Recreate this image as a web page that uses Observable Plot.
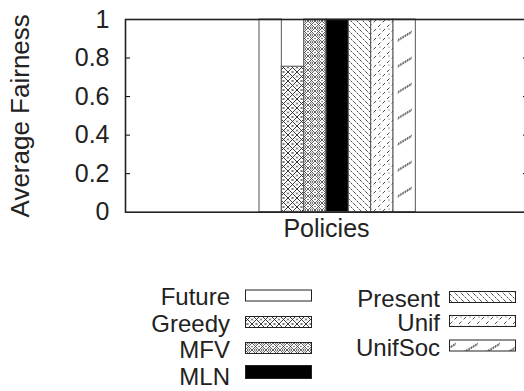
<!DOCTYPE html>
<html><head><meta charset="utf-8">
<script src="https://cdn.jsdelivr.net/npm/d3@7"></script>
<script src="https://cdn.jsdelivr.net/npm/@observablehq/plot@0.6"></script>
<style>
html,body{margin:0;padding:0;background:#fff;overflow:hidden;}
#chart{position:relative;width:524px;height:391px;overflow:hidden;}
#chart svg{max-width:none !important;width:530px;height:391px;}
svg text{font-family:"Liberation Sans",Arial,sans-serif;}
</style></head><body><div id="chart"></div>
<script>
const policies = ["Future","Greedy","MFV","MLN","Present","Unif","UnifSoc"];
const fairness = [1, 0.755, 1, 1, 1, 1, 1];
const yTicks = [0, 0.2, 0.4, 0.6, 0.8, 1];
const yTickLabels = ["0","0.2","0.4","0.6","0.8","1"];
const patternIds = ["pat-future","pat-greedy","pat-mfv","pat-mln","pat-present","pat-unif","pat-unifsoc"];
const legendLeft = ["Future","Greedy","MFV","MLN"];
const legendRight = ["Present","Unif","UnifSoc"];
const xLabel = "Policies";
const yLabel = "Average Fairness";

const bars = policies.map((p, i) => ({policy: p, index: i, value: fairness[i], fill: `url(#${patternIds[i]})`}));
const FS = 24;

const plot = Plot.plot({
  width: 530, height: 391,
  marginLeft: 125, marginRight: 3, marginTop: 19, marginBottom: 179.3,
  style: {fontFamily: "Liberation Sans, Arial, sans-serif", fontSize: FS + "px", color: "#000", background: "#fff", overflow: "visible", maxWidth: "none"},
  x: {domain: [-6, 12], axis: null},
  y: {domain: [0, 1], axis: null},
  color: {type: "identity"},
  marks: [
    Plot.rectY(bars, {x1: "index", x2: d => d.index + 1, y: "value", fill: "fill", stroke: "#555", strokeWidth: 1}),
    Plot.axisY({ticks: yTicks, tickFormat: d => yTickLabels[yTicks.indexOf(d)], tickSize: 0, tickPadding: 16, label: null, fontSize: FS + 1, fill: "#222"}),
    Plot.axisY({ticks: yTicks.slice(1, -1), anchor: "left", tickSize: -5, text: null, label: null, stroke: "#000"}),
    Plot.axisY({ticks: yTicks.slice(1, -1), anchor: "right", tickSize: -5, text: null, label: null, stroke: "#000"}),
    Plot.frame({stroke: "#222", strokeWidth: 1.6}),
    Plot.text([xLabel], {frameAnchor: "bottom", dy: 25, text: d => d, fontSize: FS + 1, fill: "#222"}),
    Plot.text([yLabel], {frameAnchor: "left", dx: -105, rotate: -90, textAnchor: "middle", text: d => d, fontSize: 26, fill: "#222"})
  ]
});
document.getElementById("chart").appendChild(plot);

const svg = d3.select(plot);
const defs = svg.insert("defs", ":first-child");
function pat(id, w, h) {
  const p = defs.append("pattern").attr("id", id).attr("patternUnits", "userSpaceOnUse").attr("width", w).attr("height", h);
  p.append("rect").attr("width", w).attr("height", h).attr("fill", "#fff");
  return p;
}
pat("pat-future", 4, 4);
{
  const p = pat("pat-greedy", 9, 9);
  p.append("path").attr("d", "M0,0L9,9M9,0L0,9").attr("stroke", "#222").attr("stroke-width", 0.9).attr("fill", "none");
  p.append("path").attr("d", "M3.5,-1L5.5,1M5.5,-1L3.5,1M3.5,8L5.5,10M5.5,8L3.5,10M-1,3.5L1,5.5M1,3.5L-1,5.5M8,3.5L10,5.5M10,3.5L8,5.5").attr("stroke", "#222").attr("stroke-width", 0.7).attr("fill", "none");
}
{
  const p = pat("pat-mfv", 7, 7);
  p.append("path").attr("d", "M0,0L7,7M7,0L0,7").attr("stroke", "#333").attr("stroke-width", 0.8).attr("fill", "none");
  p.append("circle").attr("cx", 3.5).attr("cy", 0).attr("r", 1.2).attr("fill", "none").attr("stroke", "#333").attr("stroke-width", 0.7);
  p.append("circle").attr("cx", 3.5).attr("cy", 7).attr("r", 1.2).attr("fill", "none").attr("stroke", "#333").attr("stroke-width", 0.7);
  p.append("circle").attr("cx", 0).attr("cy", 3.5).attr("r", 0.7).attr("fill", "#333");
  p.append("circle").attr("cx", 7).attr("cy", 3.5).attr("r", 0.7).attr("fill", "#333");
}
{
  const p = pat("pat-mln", 4, 4);
  p.select("rect").attr("fill", "#000");
}
{
  const p = pat("pat-present", 6, 6);
  p.append("path").attr("d", "M0,0L6,6M-3,3L3,9M3,-3L9,3").attr("stroke", "#333").attr("stroke-width", 0.9).attr("stroke-dasharray", "2.5,1.2").attr("fill", "none");
}
{
  const p = pat("pat-unif", 9, 9);
  p.append("path").attr("d", "M0,9L9,0").attr("stroke", "#333").attr("stroke-width", 0.9).attr("stroke-dasharray", "3.5,3").attr("fill", "none");
  p.append("circle").attr("cx", 2).attr("cy", 2).attr("r", 0.6).attr("fill", "#444");
}
{
  const p = pat("pat-unifsoc", 22, 26);
  let d = "";
  for (let k = 0; k < 8; k++) {
    const x = 2 + k * 1.8, y = 14 - k * 1.1;
    d += `M${x},${y + 1.5}L${x + 0.8},${y - 1.5}`;
  }
  p.append("path").attr("d", d).attr("stroke", "#333").attr("stroke-width", 0.8).attr("fill", "none");
}

// legend
const leftText = [296, 323, 349.5, 376.5];
const leftSw = [295.5, 322, 348, 372];
const rightText = [298, 322.5, 347];
const rightSw = [297, 321, 345.5];
const legend = svg.append("g").attr("font-family", "Liberation Sans, Arial, sans-serif").attr("font-size", FS);
function legendCol(names, textX, swX, ty, sy) {
  names.forEach((n, i) => {
    const idx = policies.indexOf(n);
    const h = n === "MLN" ? 13 : 11;
    legend.append("text").attr("x", textX).attr("y", ty[i] + 8.6).attr("text-anchor", "end").attr("fill", "#222").text(n);
    legend.append("rect").attr("x", swX).attr("y", sy[i] - h / 2).attr("width", 66).attr("height", h)
      .attr("fill", `url(#${patternIds[idx]})`).attr("stroke", "#222").attr("stroke-width", 1);
  });
}
legendCol(legendLeft, 230, 245.5, leftText, leftSw);
legendCol(legendRight, 440, 449.5, rightText, rightSw);
</script></body></html>
